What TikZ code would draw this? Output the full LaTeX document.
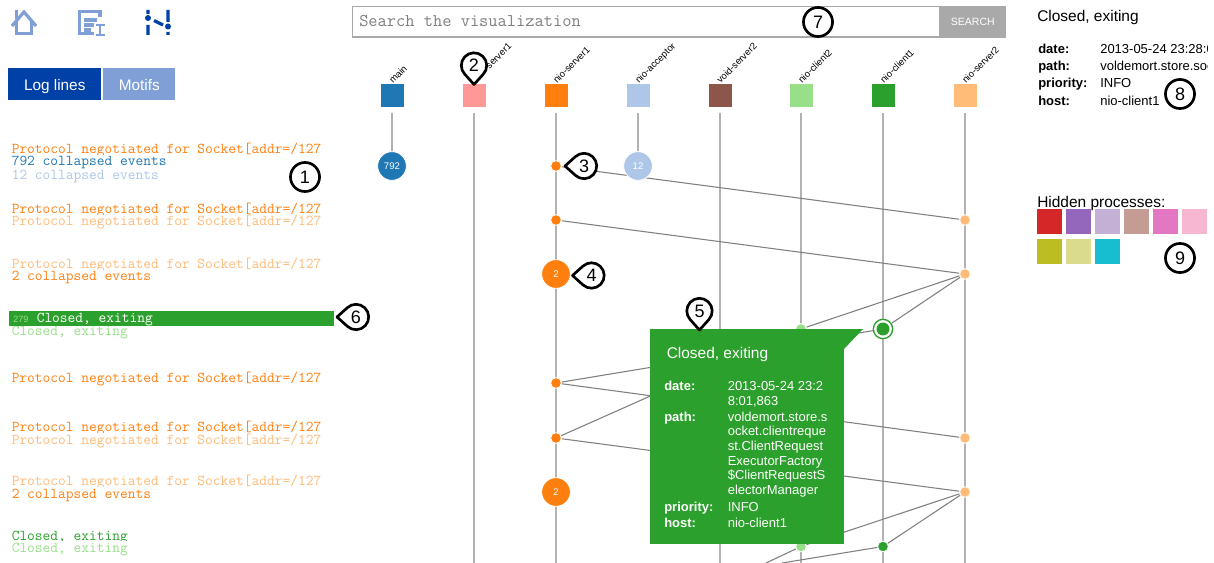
\documentclass[tikz,border=0pt]{standalone}
\usepackage{fontspec}
\setmainfont{Liberation Sans}
\usetikzlibrary{backgrounds}
\definecolor{cBlue}{HTML}{1F77B4}\definecolor{cBlueL}{HTML}{AEC7E8}
\definecolor{cOrange}{HTML}{FF7F0E}\definecolor{cOrangeL}{HTML}{FFBB78}
\definecolor{cGreen}{HTML}{2CA02C}\definecolor{cGreenL}{HTML}{98DF8A}
\definecolor{cRed}{HTML}{D62728}\definecolor{cRedL}{HTML}{FF9896}
\definecolor{cPurple}{HTML}{9467BD}\definecolor{cPurpleL}{HTML}{C5B0D5}
\definecolor{cBrown}{HTML}{8C564B}\definecolor{cBrownL}{HTML}{C49C94}
\definecolor{cPink}{HTML}{E377C2}\definecolor{cPinkL}{HTML}{F7B6D2}
\definecolor{cOlive}{HTML}{BCBD22}\definecolor{cOliveL}{HTML}{DBDB8D}
\definecolor{cCyan}{HTML}{17BECF}
\definecolor{uiDark}{HTML}{0041A8}\definecolor{uiLight}{HTML}{7F9FD6}
\definecolor{uiGray}{HTML}{A9A9A9}
\tikzset{
  x=0.75pt,y=0.75pt,
  procbox/.style={minimum size=17.25pt,inner sep=0pt,fill=#1},
  proclabel/.style={rotate=45,anchor=base west,inner sep=0pt,font=\fontsize{7.1}{9}\selectfont},
  lifeline/.style={draw=black!30,line width=1.1pt},
  msgline/.style={draw=black!50,line width=0.8pt},
  evsmall/.style={circle,fill=#1,draw=white,line width=0.6pt,minimum size=8pt,inner sep=0pt},
  evbig/.style={circle,fill=#1,draw=white,line width=0.6pt,minimum size=21.5pt,inner sep=0pt,text=white,font=\fontsize{7.2}{8}\selectfont},
  logrow/.style={anchor=base west,inner sep=0pt,fill=white,text height=7.9pt,text depth=2pt,text=#1,font=\ttfamily\fontsize{11.27}{12}\selectfont},
  uiline/.style={draw=#1,line width=2.4pt},
  tabbtn/.style={anchor=north west,minimum height=24pt,inner sep=0pt,fill=#1,text=white,text height=9.8pt,text depth=0pt,font=\fontsize{11.5}{13}\selectfont},
  uiswatch/.style={anchor=north west,minimum size=18.75pt,inner sep=0pt,fill=#1},
  plaintext/.style={anchor=base west,inner sep=0pt,font=\fontsize{9.75}{11}\selectfont},
  boldtext/.style={plaintext,font=\fontsize{9.75}{11}\selectfont\bfseries},
  bigtext/.style={anchor=base west,inner sep=0pt,font=\fontsize{11.6}{13}\selectfont},
  pinline/.style={draw=black,fill=white,line width=2pt,line join=round},
  pinnum/.style={inner sep=0pt,font=\fontsize{13.5}{15}\selectfont},
}
\newcommand{\pinmark}[4]{%
  \begin{scope}[shift={(#1,-#2)}]
    \filldraw[pinline,rotate=#3] (0,-19) -- (-43.2:12.7) arc[start angle=-43.2,end angle=223.2,radius=12.7] -- cycle;
    \node[pinnum] (pin#4) at (0,0) {#4};
  \end{scope}}
\newcommand{\ringmark}[3]{%
  \node[circle,draw=black,fill=white,line width=2pt,minimum size=21.8pt,inner sep=0pt,font=\fontsize{13.5}{15}\selectfont] (pin#3) at (#1,-#2) {#3};}
\begin{document}
\begin{tikzpicture}
\useasboundingbox (0,0) rectangle (1214,-563);

% toolbar icons
\draw[uiline=uiLight] (12,-26) -- (24,-12) -- (36,-26);
\draw[uiline=uiLight] (16.5,-21) -- (16.5,-33.5) -- (31.5,-33.5) -- (31.5,-21);
\draw[uiline=uiLight] (16.5,-10) -- (16.5,-19);
\draw[uiline=uiLight] (100,-17) -- (100,-11.5) -- (79.5,-11.5) -- (79.5,-33.5) -- (94,-33.5);
\draw[uiline=uiLight] (84,-20) -- (97,-20) (84,-25) -- (94,-25) (84,-30) -- (91,-30);
\draw[uiLight,line width=1.5pt] (96,-25) -- (104.5,-25) (100,-25) -- (100,-35) (96,-35) -- (104.5,-35);
\draw[uiline=uiDark] (148,-10) -- (148,-14) (148,-25) -- (148,-35) (168,-10) -- (168,-22) (168,-32) -- (168,-35) (154,-20.5) -- (163,-25);
\fill[uiDark] (148,-18) circle (3) (168,-26.5) circle (3);

% tab buttons
\node[tabbtn=uiDark,minimum width=69.75pt] (tabLog) at (8,-68) {Log lines};
\node[tabbtn=uiLight,minimum width=54pt] (tabMotif) at (103,-68) {Motifs};

% search bar
\draw[uiGray,line width=0.8pt] (939,-6.5) -- (352.5,-6.5) -- (352.5,-37) -- (939,-37);
\node[anchor=base west,inner sep=0pt,text=black!50,font=\ttfamily\fontsize{13.44}{15}\selectfont] (searchText) at (359,-27) {Search the visualization};
\node[anchor=north west,minimum width=50.25pt,minimum height=24pt,inner sep=0pt,fill=uiGray,text=white,font=\fontsize{7.9}{9}\selectfont] (searchBtn) at (939,-6) {SEARCH};

% log lines
\node[logrow=cOrange] (l1) at (11.5,-153.3) {Protocol negotiated for Socket[addr=/127};
\node[logrow=cBlue] (l2) at (11.5,-165.3) {792 collapsed events};
\node[logrow=cBlueL] (l3) at (11.5,-179.3) {12 collapsed events};
\node[logrow=cOrange] (l4) at (11.5,-214) {Protocol negotiated for Socket[addr=/127};
\node[logrow=cOrangeL] (l5) at (11.5,-226) {Protocol negotiated for Socket[addr=/127};
\node[logrow=cOrangeL] (l6) at (11.5,-268) {Protocol negotiated for Socket[addr=/127};
\node[logrow=cOrange] (l7) at (11.5,-281) {2 collapsed events};
\node[logrow=cGreenL] (l9) at (11.5,-335) {Closed, exiting};
\node[anchor=north west,minimum width=243.75pt,minimum height=11pt,inner sep=0pt,fill=cGreen] (l8bar) at (9,-311) {};
\node[anchor=base west,inner sep=0pt,text=cGreenL,font=\fontsize{6.8}{8}\selectfont] (l8num) at (13,-322) {279};
\node[anchor=base west,inner sep=0pt,text=white,font=\ttfamily\fontsize{11.27}{12}\selectfont] (l8) at (36.5,-322) {Closed, exiting};
\node[logrow=cOrange] (l10) at (11.5,-382) {Protocol negotiated for Socket[addr=/127};
\node[logrow=cOrange] (l11) at (11.5,-431) {Protocol negotiated for Socket[addr=/127};
\node[logrow=cOrangeL] (l12) at (11.5,-444) {Protocol negotiated for Socket[addr=/127};
\node[logrow=cOrangeL] (l13) at (11.5,-485) {Protocol negotiated for Socket[addr=/127};
\node[logrow=cOrange] (l14) at (11.5,-498) {2 collapsed events};
\node[logrow=cGreen] (l15) at (11.5,-540) {Closed, exiting};
\node[logrow=cGreenL] (l16) at (11.5,-552) {Closed, exiting};

% process boxes and labels
\node[procbox=cBlue] (pMain) at (392,-96) {};
\node[procbox=cRedL] (pVoid1) at (474,-96) {};
\node[procbox=cOrange] (pNioS1) at (556,-96) {};
\node[procbox=cBlueL] (pAcc) at (638,-96) {};
\node[procbox=cBrown] (pVoid2) at (720,-96) {};
\node[procbox=cGreenL] (pNioC2) at (801,-96) {};
\node[procbox=cGreen] (pNioC1) at (883,-96) {};
\node[procbox=cOrangeL] (pNioS2) at (965,-96) {};
\node[proclabel] (tMain) at (393,-84) {main};
\node[proclabel] (tVoid1) at (475,-84) {void-server1};
\node[proclabel] (tNioS1) at (557,-84) {nio-server1};
\node[proclabel] (tAcc) at (639,-84) {nio-acceptor};
\node[proclabel] (tVoid2) at (720.5,-84) {void-server2};
\node[proclabel] (tNioC2) at (802,-84) {nio-client2};
\node[proclabel] (tNioC1) at (884,-84) {nio-client1};
\node[proclabel] (tNioS2) at (966,-84) {nio-server2};

% bottom ends of the lifelines and messages
\coordinate (endVoid1) at (474,-563);
\coordinate (endNioS1) at (556,-563);
\coordinate (endVoid2) at (720,-563);
\coordinate (endNioC2) at (801,-563);
\coordinate (endNioC1) at (883,-563);
\coordinate (endNioS2) at (965,-563);
\coordinate (endA) at (766,-563);
\coordinate (endB) at (782,-563);

% events
\node[evbig=cBlue] (eMain) at (392,-166) {792};
\node[evbig=cBlueL] (eAcc) at (638,-166) {12};
\node[evsmall=cOrange] (a1) at (556,-166) {};
\node[evsmall=cOrange] (a2) at (556,-220) {};
\node[evbig=cOrange] (a3) at (556,-274) {2};
\node[evsmall=cOrange] (a4) at (556,-383) {};
\node[evsmall=cOrange] (a5) at (556,-438) {};
\node[evbig=cOrange] (a6) at (556,-492) {2};
\node[evsmall=cOrangeL] (b1) at (965,-220) {};
\node[evsmall=cOrangeL] (b2) at (965,-274) {};
\node[evsmall=cOrangeL] (b3) at (965,-438) {};
\node[evsmall=cOrangeL] (b4) at (965,-492) {};
\node[evsmall=cGreenL] (c1) at (801,-329) {};
\node[evsmall=cGreenL] (c2) at (801,-546.5) {};
\node[circle,draw=cGreen,fill=white,line width=1pt,minimum size=14.5pt,inner sep=0pt] (d1) at (883,-329) {};
\node[circle,fill=cGreen,minimum size=9.7pt,inner sep=0pt] (d1in) at (883,-329) {};
\node[evsmall=cGreen] (d2) at (883,-546.5) {};

\begin{scope}[on background layer]
  \fill[white] (0,0) rectangle (1214,-563);
  \draw[lifeline,shorten <=4pt] (pMain) -- (eMain);
  \draw[lifeline,shorten <=4pt] (pAcc) -- (eAcc);
  \draw[lifeline,shorten <=4pt] (pVoid1) -- (endVoid1);
  \draw[lifeline,shorten <=4pt] (pNioS1) -- (endNioS1);
  \draw[lifeline,shorten <=4pt] (pVoid2) -- (endVoid2);
  \draw[lifeline,shorten <=4pt] (pNioC2) -- (endNioC2);
  \draw[lifeline,shorten <=4pt] (pNioC1) -- (endNioC1);
  \draw[lifeline,shorten <=4pt] (pNioS2) -- (endNioS2);
  \draw[msgline] (a1) -- (b1);
  \draw[msgline] (a2) -- (b2);
  \draw[msgline] (b2) -- (c1);
  \draw[msgline] (b2) -- (d1);
  \draw[msgline] (a4) -- (d1);
  \draw[msgline] (a4) -- (b3);
  \draw[msgline] (a5) -- (c1);
  \draw[msgline] (a5) -- (b4);
  \draw[msgline] (b4) -- (c2);
  \draw[msgline] (b4) -- (d2);
  \draw[msgline] (c2) -- (endA);
  \draw[msgline] (d2) -- (endB);
\end{scope}

% tooltip
\fill[cGreen] (844,-329) -- (863,-329) -- (844,-349) -- cycle;
\node[anchor=north west,minimum width=145.5pt,minimum height=161.25pt,inner sep=0pt,fill=cGreen] (tipBox) at (650,-329) {};
\begin{scope}[every node/.append style={text=white}]
  \node[bigtext] (tipTitle) at (666.5,-358) {Closed, exiting};
  \node[boldtext] (tipK1) at (664,-390) {date:};
  \node[boldtext] (tipK2) at (664,-421) {path:};
  \node[boldtext] (tipK3) at (664,-511) {priority:};
  \node[boldtext] (tipK4) at (664,-527) {host:};
  \node[plaintext] (tipV1) at (727.5,-390) {2013-05-24 23:2};
  \node[plaintext] (tipV2) at (727.5,-405) {8:01,863};
  \node[plaintext] (tipV3) at (727.5,-421) {voldemort.store.s};
  \node[plaintext] (tipV4) at (727.5,-435) {ocket.clientreque};
  \node[plaintext] (tipV5) at (727.5,-450) {st.ClientRequest};
  \node[plaintext] (tipV6) at (727.5,-465) {ExecutorFactory};
  \node[plaintext] (tipV7) at (727.5,-479) {\$ClientRequestS};
  \node[plaintext] (tipV8) at (727.5,-494) {electorManager};
  \node[plaintext] (tipV9) at (727.5,-511) {INFO};
  \node[plaintext] (tipV10) at (727.5,-527) {nio-client1};
\end{scope}

% details panel
\node[bigtext] (detTitle) at (1037,-22) {Closed, exiting};
\node[boldtext] (detK1) at (1038,-53.5) {date:};
\node[boldtext] (detK2) at (1038,-71) {path:};
\node[boldtext] (detK3) at (1038,-88) {priority:};
\node[boldtext] (detK4) at (1038,-105.5) {host:};
\begin{scope}
  \clip (1090,0) rectangle (1207,-120);
  \node[plaintext] (detV1) at (1100,-53.5) {2013-05-24 23:28:01,863};
  \node[plaintext] (detV2) at (1100,-71) {voldemort.store.socket.clientrequest};
  \node[plaintext] (detV3) at (1100,-88) {INFO};
  \node[plaintext] (detV4) at (1100,-105.5) {nio-client1};
\end{scope}

% hidden processes
\node[bigtext] (hidTitle) at (1037,-208) {Hidden processes:};
\node[uiswatch=cRed] (h1) at (1037,-209) {};
\node[uiswatch=cPurple] (h2) at (1066,-209) {};
\node[uiswatch=cPurpleL] (h3) at (1095,-209) {};
\node[uiswatch=cBrownL] (h4) at (1124,-209) {};
\node[uiswatch=cPink] (h5) at (1153,-209) {};
\node[uiswatch=cPinkL] (h6) at (1182,-209) {};
\node[uiswatch=cOlive] (h7) at (1037,-239) {};
\node[uiswatch=cOliveL] (h8) at (1066,-239) {};
\node[uiswatch=cCyan] (h9) at (1095,-239) {};

% numbered callouts
\ringmark{305}{177}{1}
\pinmark{474}{65.5}{0}{2}
\pinmark{584}{166}{-90}{3}
\pinmark{591.5}{275.5}{-90}{4}
\pinmark{699.5}{311}{0}{5}
\pinmark{356}{317}{-90}{6}
\ringmark{818}{22}{7}
\ringmark{1180}{94}{8}
\ringmark{1180}{258}{9}
\end{tikzpicture}
\end{document}
